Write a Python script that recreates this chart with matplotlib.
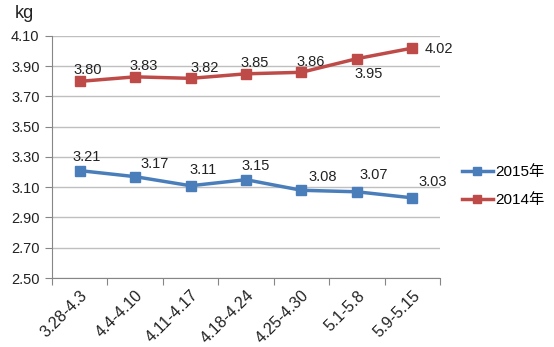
import matplotlib
matplotlib.use("Agg")
import matplotlib.pyplot as plt
from matplotlib.lines import Line2D

plt.rcParams['font.family'] = ['Liberation Sans', 'Noto Sans CJK SC', 'DejaVu Sans']

weeks = ["3.28-4.3", "4.4-4.10", "4.11-4.17", "4.18-4.24", "4.25-4.30", "5.1-5.8", "5.9-5.15"]
y2015 = [3.21, 3.17, 3.11, 3.15, 3.08, 3.07, 3.03]
y2014 = [3.80, 3.83, 3.82, 3.85, 3.86, 3.95, 4.02]
yticks = [2.50, 2.70, 2.90, 3.10, 3.30, 3.50, 3.70, 3.90, 4.10]

# label offsets in pixels (dx, dy)
off2014 = [(8, 11), (9, 11), (14, 10), (9, 11), (9, 10), (12, -15), (27, -1)]
off2015 = [(7, 14), (20, 13), (13, 16), (10, 14), (21, 13), (17, 17), (20, 16)]

blue = "#4A7EBB"
red = "#BE4B48"
grid = "#BFBFBF"

fig = plt.figure(figsize=(5.54, 3.47), dpi=100)
ax = fig.add_axes([52/554, 1-278/347, (440-52)/554, (278-36)/347])

x = list(range(len(weeks)))
ax.plot(x, y2015, color=blue, lw=2.5, marker='s', ms=7, zorder=3)
ax.plot(x, y2014, color=red, lw=2.5, marker='s', ms=7, zorder=3)

for xi, v, (dx, dy) in zip(x, y2014, off2014):
    ax.annotate(f"{v:.2f}", (xi, v), xytext=(dx, dy), textcoords='offset pixels',
                ha='center', va='center', fontsize=10.5, color='#222222')
for xi, v, (dx, dy) in zip(x, y2015, off2015):
    ax.annotate(f"{v:.2f}", (xi, v), xytext=(dx, dy), textcoords='offset pixels',
                ha='center', va='center', fontsize=10.5, color='#222222')

ax.set_xlim(-0.5, len(weeks) - 0.5)
ax.set_ylim(2.50, 4.10)
ax.set_yticks(yticks)
ax.set_yticklabels([f"{t:.2f}" for t in yticks], fontsize=10.5, color='#222222')
ax.yaxis.grid(True, color=grid, lw=1)
ax.set_axisbelow(True)

ax.set_xticks([i - 0.5 for i in range(len(weeks) + 1)])
ax.set_xticklabels([])
ax.set_xticks(x, minor=True)
ax.set_xticklabels(weeks, minor=True, rotation=45, ha='right', va='top',
                   rotation_mode='anchor', fontsize=11.5, color='#222222')
ax.tick_params(axis='x', which='minor', length=0, pad=7)
ax.tick_params(axis='x', which='major', length=5, color='#868686')
ax.tick_params(axis='y', length=5, color='#868686', pad=4)

for s in ['top', 'right']:
    ax.spines[s].set_visible(False)
ax.spines['left'].set_color('#868686')
ax.spines['bottom'].set_color('#868686')

fig.text(15/554, 1-13/347, "kg", fontsize=13, ha='left', va='center', color='#222222')

handles = [Line2D([], [], color=blue, lw=2.5, marker='s', ms=6),
           Line2D([], [], color=red, lw=2.5, marker='s', ms=6)]
fig.legend(handles, ["2015年", "2014年"], loc='center left',
           bbox_to_anchor=(462/554, 1-186/347), frameon=False, fontsize=11,
           handlelength=2.0, handletextpad=0.15, labelspacing=0.9,
           borderaxespad=0, borderpad=0)

fig.savefig("out.png", dpi=100)
